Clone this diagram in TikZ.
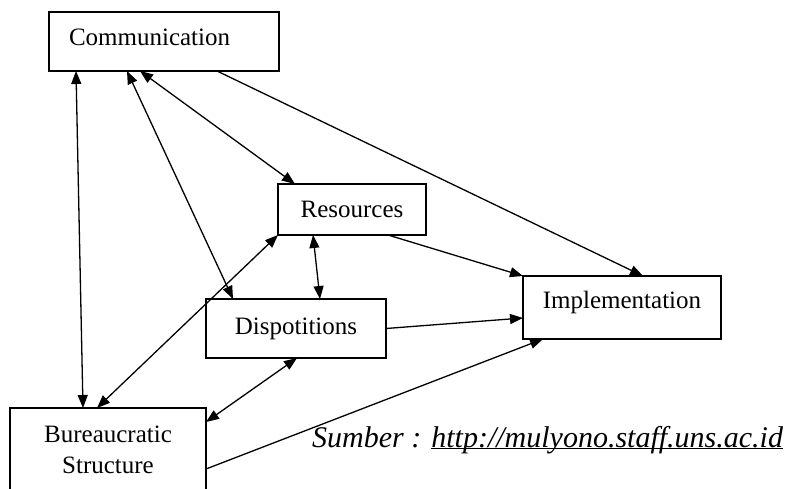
\documentclass[tikz,border=0pt]{standalone}
\usepackage{fontspec}
\setmainfont{Liberation Serif}
\usetikzlibrary{arrows.meta}

\begin{document}
\begin{tikzpicture}[x=1pt,y=-1pt,>={Triangle[length=13pt,width=10pt]}]
\tikzstyle{box_style} = [draw=black, line width=1.5pt, fill=white, inner sep=0pt, outer sep=0pt, font=\fontsize{25}{31}\selectfont]
\tikzstyle{edge_style1} = [black, line width=1.3pt, <->]
\tikzstyle{edge_style2} = [black, line width=1.3pt, ->]
    \useasboundingbox (0,0) rectangle (789,489);

    \node[box_style, minimum width=230pt, minimum height=59pt, text width=190pt, inner xsep=20pt, align=left, text height=17pt, text depth=8pt] (comm) at (164,41.5) {Communication};
    \node[box_style, minimum width=148pt, minimum height=51pt] (res) at (352,209.5) {Resources};
    \node[box_style, minimum width=180pt, minimum height=59pt] (disp) at (296,328.5) {Dispotitions};
    \node[box_style, minimum width=198pt, minimum height=63pt, text height=17pt, text depth=16pt] (impl) at (622,307.5) {Implementation};
    \node[box_style, minimum width=196pt, minimum height=84pt, align=center] (bur) at (108,450) {Bureaucratic\\Structure};

    \draw[edge_style1] ([xshift=27pt]comm.south west) -- ([xshift=73pt]bur.north west);
    \draw[edge_style1] ([xshift=78pt]comm.south west) -- ([xshift=27pt]disp.north west);
    \draw[edge_style1] ([xshift=91pt]comm.south west) -- ([xshift=17pt]res.north west);
    \draw[edge_style2] ([xshift=168pt]comm.south west) -- ([xshift=120pt]impl.north west);
    \draw[edge_style1] ([xshift=35pt]res.south west) -- ([xshift=114pt]disp.north west);
    \draw[edge_style1] (res.south west) -- ([xshift=87pt]bur.north west);
    \draw[edge_style1] ([xshift=91pt]disp.south west) -- ([yshift=-14pt]bur.north east);
    \draw[edge_style2] ([xshift=110pt]res.south west) -- (impl.north west);
    \draw[edge_style2] (disp.east) -- ([yshift=-10.5pt]impl.west);
    \draw[edge_style2] ([yshift=-61pt]bur.north east) -- ([xshift=20pt]impl.south west);

    \node[anchor=base west, inner sep=0pt, font=\fontsize{30}{36}\selectfont\itshape] (source) at (312,447) {Sumber : \underline{\smash{http://mulyono.staff.uns.ac.id}}};
\end{tikzpicture}
\end{document}
